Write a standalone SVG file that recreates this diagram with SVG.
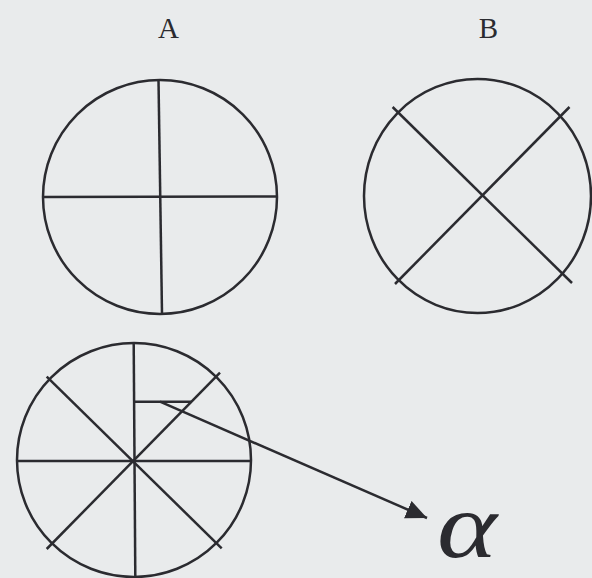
<svg xmlns="http://www.w3.org/2000/svg" width="592" height="578" viewBox="0 0 592 578">
<style>
.ln{stroke:#2b2b30;stroke-width:2.5;fill:none;stroke-linecap:butt}
.lbl{font-family:"Liberation Serif","Times New Roman",serif;fill:#2b2b30}
</style>
<defs>
<marker id="ah" markerUnits="userSpaceOnUse" viewBox="0 0 20 18" refX="20" refY="9" markerWidth="21" markerHeight="19" orient="auto">
<path d="M0,0 L20,9 L0,18 z" fill="#2b2b30"/>
</marker>
</defs>
<rect x="0" y="0" width="592" height="578" fill="#e9ebec"/>
<g id="nodeA">
<text class="lbl" x="168.5" y="38" font-size="29" text-anchor="middle">A</text>
<circle class="ln" cx="160" cy="197" r="117"/>
<line class="ln" x1="158.5" y1="80" x2="162" y2="313.5"/>
<line class="ln" x1="43" y1="197" x2="277" y2="196.5"/>
</g>
<g id="nodeB">
<text class="lbl" x="488.5" y="38" font-size="29" text-anchor="middle">B</text>
<ellipse class="ln" cx="477.5" cy="196" rx="113.5" ry="117"/>
<line class="ln" x1="392.6" y1="107" x2="572" y2="283"/>
<line class="ln" x1="569.5" y1="107" x2="395" y2="284"/>
</g>
<g id="nodeC">
<circle class="ln" cx="134" cy="460" r="117"/>
<line class="ln" x1="133.7" y1="343" x2="135.3" y2="577"/>
<line class="ln" x1="16" y1="461" x2="251" y2="461"/>
<line class="ln" x1="46.7" y1="376.7" x2="221.7" y2="548.3"/>
<line class="ln" x1="220" y1="372.7" x2="46.7" y2="549"/>
<line class="ln" x1="134.3" y1="401.7" x2="191.7" y2="401.7"/>
</g>
<g id="nodeAlpha">
<text class="lbl" x="437" y="557" font-size="94" font-style="italic" textLength="60" lengthAdjust="spacingAndGlyphs">α</text>
</g>
<g id="connectors">
<line class="ln" x1="160" y1="401.7" x2="427" y2="518" marker-end="url(#ah)"/>
</g>
</svg>
